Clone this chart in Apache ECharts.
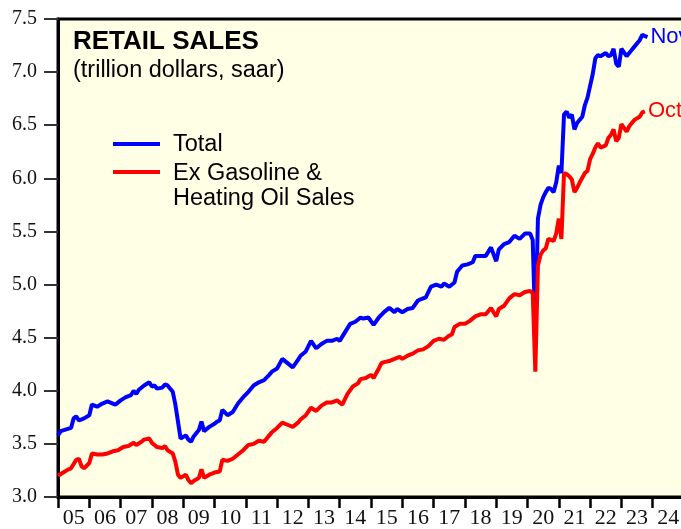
<!DOCTYPE html>
<html>
<head>
<meta charset="utf-8">
<script src="https://cdn.jsdelivr.net/npm/echarts@6/dist/echarts.min.js"></script>
<style>
  html, body { margin: 0; padding: 0; background: #fff; overflow: hidden; }
  #chart { width: 700px; height: 529px; }
</style>
</head>
<body>
<div id="chart"></div>
<script>
// year labels under the x axis
const yearLabels = ['05','06','07','08','09','10','11','12','13','14','15','16','17','18','19','20','21','22','23','24'];

// Total retail sales (trillion $, saar)
const totalDates = [
  '2005-01','2005-02','2005-06','2005-07','2005-08','2005-09','2005-11',
  '2006-01','2006-02','2006-04','2006-06','2006-08','2006-10','2006-11',
  '2007-01','2007-03','2007-05','2007-06','2007-07','2007-08','2007-10','2007-12',
  '2008-01','2008-02','2008-03','2008-05','2008-06','2008-07','2008-09','2008-10','2008-11','2008-12',
  '2009-02','2009-03','2009-04','2009-05','2009-07','2009-08','2009-09','2009-11',
  '2010-01','2010-02','2010-03','2010-04','2010-06','2010-08','2010-10','2010-12',
  '2011-02','2011-04','2011-06','2011-08','2011-10','2011-11',
  '2012-01','2012-03','2012-05','2012-07','2012-09','2012-10','2012-12',
  '2013-02','2013-04','2013-06','2013-08','2013-10','2013-12',
  '2014-01','2014-03','2014-05','2014-07','2014-09','2014-10','2014-12',
  '2015-02','2015-04','2015-06','2015-08','2015-10','2015-11',
  '2016-01','2016-03','2016-05','2016-07','2016-08','2016-10','2016-12',
  '2017-02','2017-04','2017-05','2017-07','2017-09','2017-10','2017-12',
  '2018-02','2018-04','2018-05','2018-07','2018-09','2018-11',
  '2019-01','2019-02','2019-04','2019-06','2019-08','2019-10','2019-12',
  '2020-02','2020-03','2020-04','2020-05','2020-06','2020-07','2020-08','2020-09','2020-10','2020-11','2020-12',
  '2021-01','2021-02','2021-03','2021-04','2021-05','2021-06','2021-07','2021-08','2021-10','2021-11','2021-12',
  '2022-01','2022-02','2022-03','2022-04','2022-05','2022-07','2022-08','2022-09','2022-10','2022-11','2022-12',
  '2023-01','2023-03','2023-04','2023-05','2023-06','2023-08','2023-09','2023-11'
];
const totalValues = [
  3.58,3.62,3.65,3.74,3.76,3.72,3.74,
  3.77,3.87,3.85,3.88,3.90,3.88,3.87,
  3.91,3.94,3.96,4.00,3.97,4.01,4.05,4.08,
  4.04,4.05,4.02,4.03,4.06,4.05,3.99,3.87,3.71,3.55,
  3.58,3.54,3.52,3.57,3.63,3.71,3.62,3.66,
  3.69,3.71,3.72,3.82,3.77,3.80,3.88,3.94,
  3.99,4.05,4.08,4.10,4.15,4.18,
  4.21,4.30,4.26,4.22,4.29,4.33,4.37,
  4.47,4.40,4.44,4.47,4.47,4.49,
  4.47,4.55,4.63,4.65,4.69,4.68,4.69,
  4.62,4.69,4.74,4.78,4.74,4.77,
  4.74,4.77,4.78,4.85,4.86,4.88,4.98,
  5.00,4.98,5.01,4.98,5.02,5.12,5.18,
  5.19,5.21,5.27,5.27,5.27,5.35,
  5.22,5.33,5.38,5.40,5.46,5.43,5.48,
  5.48,5.42,4.55,5.62,5.75,5.82,5.87,5.91,5.90,5.87,5.96,
  6.12,6.05,6.60,6.63,6.57,6.60,6.46,6.52,6.58,6.69,6.76,
  6.87,6.98,7.13,7.16,7.15,7.18,7.15,7.16,7.22,7.08,7.05,
  7.22,7.15,7.18,7.21,7.24,7.30,7.35,7.33
];

// Ex gasoline & heating oil sales (trillion $, saar)
const exGasDates = [
  '2005-01','2005-03','2005-05','2005-06','2005-08','2005-09','2005-10','2005-11',
  '2006-01','2006-02','2006-04','2006-06','2006-08','2006-10','2006-12',
  '2007-02','2007-04','2007-06','2007-07','2007-09','2007-10','2007-12',
  '2008-01','2008-02','2008-03','2008-05','2008-06','2008-07','2008-09','2008-10','2008-11','2008-12',
  '2009-02','2009-03','2009-04','2009-05','2009-07','2009-08','2009-09','2009-11',
  '2010-01','2010-03','2010-04','2010-06','2010-08','2010-10','2010-12',
  '2011-02','2011-04','2011-06','2011-08','2011-10','2011-11',
  '2012-01','2012-03','2012-05','2012-07','2012-09','2012-10','2012-12',
  '2013-02','2013-04','2013-06','2013-08','2013-10','2013-12',
  '2014-02','2014-04','2014-06','2014-08','2014-09','2014-11',
  '2015-01','2015-02','2015-04','2015-05','2015-06','2015-08','2015-10','2015-12',
  '2016-01','2016-03','2016-05','2016-07','2016-09','2016-11',
  '2017-01','2017-03','2017-05','2017-07','2017-08','2017-09','2017-11',
  '2018-01','2018-03','2018-05','2018-07','2018-09','2018-11',
  '2019-01','2019-02','2019-04','2019-06','2019-08','2019-10','2019-12',
  '2020-02','2020-03','2020-04','2020-05','2020-06','2020-07','2020-08','2020-09','2020-10','2020-11','2020-12',
  '2021-01','2021-02','2021-03','2021-04','2021-05','2021-06','2021-07','2021-08','2021-09','2021-11','2021-12',
  '2022-01','2022-02','2022-03','2022-04','2022-05','2022-07','2022-08','2022-09','2022-10','2022-11','2022-12',
  '2023-01','2023-03','2023-04','2023-05','2023-06','2023-08','2023-09','2023-10'
];
const exGasValues = [
  3.20,3.23,3.26,3.27,3.35,3.36,3.29,3.27,
  3.32,3.41,3.40,3.40,3.41,3.43,3.44,
  3.47,3.48,3.51,3.49,3.52,3.54,3.55,
  3.51,3.49,3.47,3.46,3.48,3.44,3.41,3.33,3.21,3.18,
  3.21,3.16,3.13,3.15,3.18,3.26,3.18,3.21,
  3.23,3.24,3.35,3.34,3.36,3.40,3.44,
  3.49,3.50,3.53,3.52,3.58,3.61,
  3.65,3.70,3.68,3.66,3.70,3.73,3.77,
  3.84,3.81,3.86,3.89,3.89,3.91,
  3.87,3.97,4.04,4.07,4.11,4.12,
  4.15,4.12,4.21,4.26,4.27,4.28,4.30,4.32,
  4.30,4.33,4.35,4.38,4.39,4.42,
  4.47,4.49,4.48,4.52,4.53,4.60,4.63,
  4.63,4.66,4.70,4.72,4.72,4.78,
  4.70,4.77,4.80,4.87,4.91,4.90,4.93,
  4.94,4.92,4.18,5.18,5.28,5.32,5.34,5.43,5.42,5.41,5.48,
  5.62,5.43,6.05,6.04,6.02,5.99,5.87,5.91,5.96,6.05,6.07,
  6.18,6.23,6.29,6.33,6.29,6.31,6.38,6.41,6.46,6.35,6.38,
  6.51,6.44,6.49,6.52,6.55,6.58,6.62,6.63
];

function toPairs(dates, values) {
  return dates.map((d, i) => {
    const [y, m] = d.split('-').map(Number);
    return [y + (m - 1) / 12, values[i]];
  });
}

const chart = echarts.init(document.getElementById('chart'));

const sans = 'Liberation Sans, Arial, sans-serif';
const serif = 'Liberation Serif, Times New Roman, serif';

chart.setOption({
  animation: false,
  title: {
    text: 'RETAIL SALES',
    subtext: '(trillion dollars, saar)',
    left: 68,
    top: 24,
    itemGap: 4,
    textStyle: { fontFamily: sans, fontWeight: 'bold', fontSize: 26, color: '#000' },
    subtextStyle: { fontFamily: sans, fontSize: 23.5, color: '#000' }
  },
  grid: {
    left: 58, top: 19, right: 16, bottom: 30,
    show: true,
    backgroundColor: '#ffffe5',
    borderColor: '#000',
    borderWidth: 3
  },
  xAxis: [
    {
      type: 'value', min: 2005, max: 2025, position: 'top', show: false
    },
    {
      type: 'category', data: yearLabels, position: 'bottom',
      boundaryGap: true,
      axisLine: { lineStyle: { color: '#000', width: 3 } },
      axisTick: { show: true, length: 11, lineStyle: { color: '#000', width: 2.5 } },
      axisLabel: { fontFamily: serif, fontSize: 22, color: '#111', margin: 10 }
    }
  ],
  yAxis: {
    type: 'value', min: 3, max: 7.5, interval: 0.5,
    splitLine: { show: false },
    axisLine: { show: true, lineStyle: { color: '#000', width: 3 } },
    axisTick: { show: true, length: 14, lineStyle: { color: '#333', width: 2 } },
    axisLabel: { fontFamily: serif, fontSize: 20, color: '#111', margin: 21, formatter: v => v.toFixed(1) }
  },
  graphic: [
    { type: 'line', shape: { x1: 113, y1: 144, x2: 160, y2: 144 }, style: { stroke: '#0000ff', lineWidth: 4 } },
    { type: 'text', left: 173, top: 133, style: { text: 'Total', font: '23.5px ' + sans, fill: '#000' } },
    { type: 'line', shape: { x1: 113, y1: 172, x2: 160, y2: 172 }, style: { stroke: '#ff0000', lineWidth: 4 } },
    { type: 'text', left: 173, top: 161, style: { text: 'Ex Gasoline &\nHeating Oil Sales', font: '23.5px ' + sans, lineHeight: 25, fill: '#000' } }
  ],
  series: [
    {
      name: 'Total', type: 'line', xAxisIndex: 0,
      showSymbol: false,
      lineStyle: { color: '#0000ff', width: 4 },
      itemStyle: { color: '#0000ff' },
      data: toPairs(totalDates, totalValues),
      endLabel: { show: true, formatter: 'Nov', color: '#0000ff', fontFamily: sans, fontSize: 22, distance: 3 }
    },
    {
      name: 'Ex Gasoline & Heating Oil Sales', type: 'line', xAxisIndex: 0,
      showSymbol: false,
      lineStyle: { color: '#ff0000', width: 4 },
      itemStyle: { color: '#ff0000' },
      data: toPairs(exGasDates, exGasValues),
      endLabel: { show: true, formatter: 'Oct', color: '#ff0000', fontFamily: sans, fontSize: 22, distance: 3 }
    }
  ]
});
</script>
</body>
</html>
